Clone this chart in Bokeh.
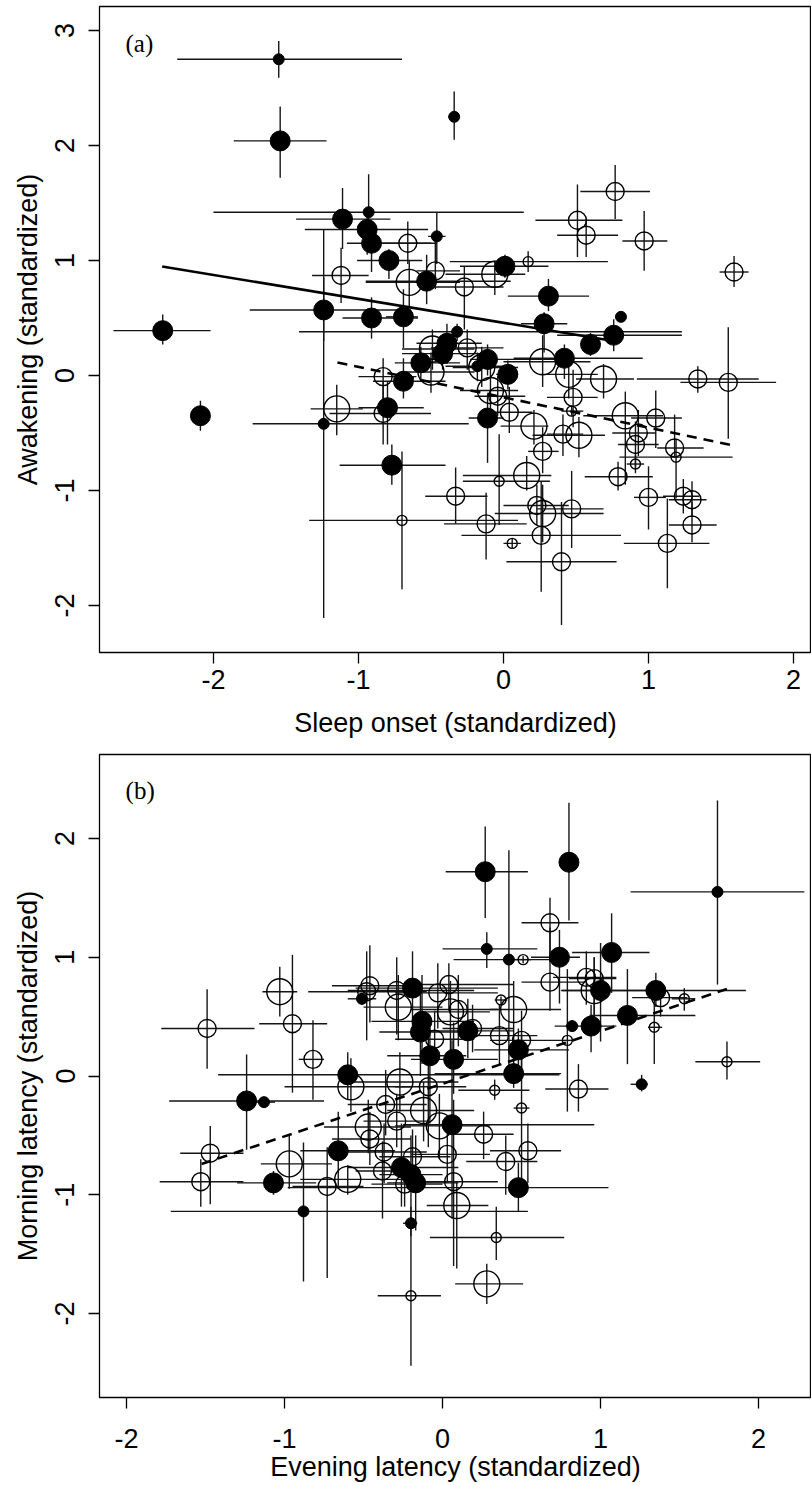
from bokeh.plotting import figure
from bokeh.models import Range1d, FixedTicker, Label, ColumnDataSource
from bokeh.layouts import column
from bokeh.embed import file_html
from bokeh.resources import INLINE

# ---------------- Panel (a): sleep onset vs awakening ----------------
# first 34 entries are filled symbols, remaining 57 are open symbols
a_x = [-1.55, -1.54, -0.34, -2.35, -2.09, -1.11, -0.93, -0.94, -0.91, -0.79,
       -0.46, -0.53, -1.24, -0.91, -0.69, 0.31, 0.28, 0.81, 0.76, 0.60,
       0.42, 0.03, 0.01, -0.11, -0.11, -0.39, -0.42, -0.32, -0.57, -0.69,
       -0.80, -0.77, -1.24, -0.18,
       0.77, 0.51, 0.57, 0.97, 1.59, 1.34, 1.55, 0.84, 1.05, 0.93,
       0.91, 1.18, 1.19, 0.79, 1.00, 1.24, 1.30, 1.30, 1.13, 0.40,
       0.26, 0.27, 0.23, 0.47, -0.12, -0.33, -0.70, -0.03, 0.06, 0.16,
       0.27, 0.21, 0.52, 0.41, 0.48, 0.04, 0.27, 0.45, 0.69, 0.17,
       -0.66, -0.47, -0.65, -0.27, -0.06, -0.49, -0.50, -0.25, -0.83, -0.15,
       -0.09, -0.04, -1.15, -0.83, 0.47, 0.91, -1.12]
a_y = [2.75, 2.04, 2.25, 0.39, -0.35, 1.36, 1.42, 1.27, 1.15, 1.00,
       1.21, 0.82, 0.57, 0.50, 0.51, 0.69, 0.45, 0.51, 0.35, 0.27,
       0.15, 0.01, 0.95, 0.14, -0.37, 0.28, 0.19, 0.38, 0.11, -0.05,
       -0.28, -0.78, -0.42, 0.08,
       1.60, 1.35, 1.22, 1.17, 0.90, -0.03, -0.06, -0.35, -0.37, -0.50,
       -0.60, -0.63, -0.71, -0.88, -1.06, -1.05, -1.08, -1.30, -1.46, -1.62,
       -1.39, -1.20, -1.13, -1.16, -1.29, -1.05, -1.26, -0.92, -1.46, -0.87,
       -0.66, -0.44, -0.52, -0.51, -0.19, -0.32, 0.12, 0.01, -0.03, 0.99,
       1.15, 0.91, 0.81, 0.77, 0.88, 0.23, 0.03, 0.24, -0.01, 0.07,
       -0.13, -0.18, -0.29, -0.33, -0.31, -0.77, 0.87]
a_xlo = [-2.25, -1.86, -0.38, -2.69, -2.11, -1.43, -2.00, -1.37, -1.08, -1.01,
         -0.52, -0.95, -1.75, -1.11, -0.81, 0.03, 0.12, 0.78, 0.37, 0.55,
         0.07, -0.05, -0.30, -0.23, -0.24, -0.60, -0.70, -1.41, -0.75, -0.90,
         -1.00, -1.13, -1.73, -0.40,
         0.53, 0.22, 0.37, 0.82, 1.49, 0.92, 1.22, 0.55, 0.88, 0.75,
         0.79, 1.06, 0.80, 0.56, 0.90, 1.10, 1.14, 1.14, 0.83, 0.02,
         -0.29, -0.06, 0.00, 0.23, -0.41, -0.54, -1.34, -0.28, 0.00, -0.28,
         0.17, -0.02, 0.20, 0.30, 0.30, -0.10, 0.00, 0.25, 0.50, -0.37,
         -0.95, -0.60, -0.95, -0.50, -0.40, -0.70, -0.70, -0.50, -1.00, -0.35,
         -0.30, -0.20, -1.33, -1.20, 0.40, 0.85, -1.32]
a_xhi = [-0.70, -1.22, -0.31, -2.02, -2.06, -0.78, 0.14, -0.52, -0.46, -0.56,
         -0.40, 0.05, -0.64, -0.59, -0.59, 0.59, 0.44, 0.83, 1.23, 0.65,
         0.96, 0.10, 0.31, 0.35, 0.00, -0.15, -0.10, 1.23, -0.30, -0.40,
         -0.55, -0.40, -0.24, 0.05,
         1.01, 0.82, 0.79, 1.13, 1.69, 1.76, 1.88, 1.10, 1.23, 1.05,
         1.07, 1.38, 1.58, 1.03, 1.12, 1.35, 1.40, 1.47, 1.42, 0.78,
         0.81, 0.69, 0.45, 0.69, 0.16, -0.11, 0.10, 0.32, 0.12, 0.33,
         0.38, 0.31, 0.70, 0.55, 0.65, 0.20, 0.60, 0.65, 0.90, 0.72,
         -0.50, -0.30, -0.30, 0.00, 0.15, -0.20, -0.20, 0.00, -0.60, 0.10,
         0.10, 0.15, -0.97, -0.50, 0.55, 0.97, -0.93]
a_ylo = [2.59, 1.72, 2.05, 0.27, -0.48, 1.10, 1.30, 1.05, 0.90, 0.84,
         0.97, 0.62, 0.30, 0.32, 0.24, 0.56, 0.20, 0.49, 0.21, 0.17,
         -0.03, -0.12, 0.85, 0.00, -0.76, 0.10, 0.05, 0.30, -0.05, -0.20,
         -0.60, -0.95, -2.11, -0.05,
         1.36, 1.03, 1.03, 0.91, 0.77, -0.15, -0.55, -0.95, -0.63, -0.70,
         -0.80, -0.70, -1.07, -1.00, -1.34, -1.20, -1.23, -1.45, -1.85, -2.17,
         -1.88, -1.45, -1.30, -1.50, -1.60, -1.29, -1.86, -1.30, -1.50, -1.00,
         -0.85, -0.60, -0.71, -0.70, -0.45, -0.50, -0.10, -0.20, -0.20, 0.90,
         0.97, 0.75, 0.60, 0.40, 0.70, 0.05, -0.15, 0.05, -0.25, -0.10,
         -0.40, -0.35, -0.52, -0.60, -0.35, -0.85, 0.63]
a_yhi = [2.91, 2.34, 2.47, 0.53, -0.22, 1.63, 1.75, 1.45, 1.27, 1.10,
         1.42, 1.05, 0.85, 0.68, 0.75, 0.84, 0.55, 0.54, 0.49, 0.37,
         0.27, 0.13, 1.05, 0.27, -0.17, 0.45, 0.32, 0.45, 0.25, 0.15,
         -0.05, -0.60, 1.27, 0.20,
         1.83, 1.66, 1.36, 1.43, 1.04, 0.08, 0.42, -0.14, -0.13, -0.30,
         -0.40, -0.34, -0.55, -0.75, -0.79, -0.90, -0.92, -1.10, -1.07, -1.10,
         -0.92, -0.95, -0.95, -0.83, -1.02, -0.80, -0.66, -0.51, -1.42, -0.70,
         -0.45, -0.30, -0.36, -0.34, 0.05, -0.10, 0.35, 0.20, 0.10, 1.08,
         1.34, 1.20, 1.00, 0.95, 1.00, 0.40, 0.20, 0.40, 0.15, 0.25,
         0.10, 0.00, -0.08, -0.05, -0.26, -0.69, 1.11]
a_w = [1, 2, 1, 2, 2, 2, 1, 2, 2, 2,
       1, 2, 2, 2, 2, 2, 2, 1, 2, 2,
       2, 2, 2, 2, 2, 2, 2, 1, 2, 2,
       2, 2, 1, 1,
       2, 2, 2, 2, 2, 2, 2, 3, 2, 2,
       2, 2, 1, 2, 2, 2, 2, 2, 2, 2,
       2, 3, 2, 2, 2, 2, 1, 1, 1, 3,
       2, 3, 3, 2, 2, 2, 3, 3, 3, 1,
       2, 2, 3, 2, 3, 3, 3, 2, 2, 3,
       3, 2, 3, 2, 1, 1, 2]
a_group = ["filled"] * 34 + ["open"] * 57

a_fit_solid_x = [-2.354, 0.76]
a_fit_solid_y = [0.948, 0.30]
a_fit_dash_x = [-1.145, 1.586]
a_fit_dash_y = [0.113, -0.609]

# ---------------- Panel (b): evening vs morning latency ----------------
# first 34 entries filled, remaining 59 open
b_x = [0.27, 0.28, 0.80, 1.74, 1.07, 0.74, 0.42, 1.35, 1.00, 1.17,
       0.94, 0.82, 1.26, 0.48, 0.45, 0.48, 0.07, 0.16, 0.06, -0.13,
       -0.14, -0.08, -0.19, -0.51, -0.60, -1.24, -1.13, -1.07, -0.88, -0.66,
       -0.26, -0.20, -0.17, -0.20,
       -1.49, -1.03, -0.95, -0.82, -0.46, -0.48, -0.29, -0.28, -0.03, 0.04,
       0.05, 0.10, 0.19, -0.05, 0.36, 0.45, 0.50, 0.37, 0.51, 0.68,
       0.68, 0.91, 0.96, 0.96, 1.38, 1.53, 1.34, 1.80, 0.86, 0.79,
       0.33, 0.50, -0.09, -0.27, -0.58, -0.36, -0.29, -0.12, -0.02, -0.47,
       -0.46, -0.37, -0.38, 0.26, 0.54, 0.40, 0.03, 0.07, 0.09, 0.28,
       0.34, -0.20, -0.24, -0.19, -0.60, -0.73, -0.97, -1.47, -1.53]
b_y = [1.72, 1.07, 1.80, 1.55, 1.04, 1.00, 0.98, 0.72, 0.72, 0.51,
       0.42, 0.42, -0.07, 0.22, 0.02, -0.94, 0.14, 0.38, -0.41, 0.46,
       0.37, 0.17, 0.74, 0.65, 0.01, -0.21, -0.22, -0.90, -1.14, -0.63,
       -0.77, -0.83, -0.90, -1.24,
       0.40, 0.71, 0.44, 0.14, 0.76, 0.71, 0.72, 0.58, 0.70, 0.77,
       0.54, 0.56, 0.40, 0.31, 0.34, 0.56, 0.30, 0.64, 0.98, 1.29,
       0.79, 0.83, 0.82, 0.72, 0.66, 0.65, 0.41, 0.12, -0.11, 0.30,
       -0.12, -0.27, -0.09, -0.05, -0.09, -0.24, -0.38, -0.29, -0.42, -0.43,
       -0.53, -0.64, -0.80, -0.49, -0.63, -0.72, -0.66, -0.89, -1.09, -1.75,
       -1.36, -1.85, -0.91, -0.68, -0.87, -0.93, -0.74, -0.65, -0.89]
b_xlo = [0.02, 0.00, 0.76, 1.19, 0.82, 0.56, 0.07, 1.20, 0.76, 0.93,
         0.71, 0.78, 1.19, 0.20, -0.05, -0.98, -0.20, -0.10, -0.25, -0.45,
         -0.40, -0.35, -0.55, -0.60, -1.42, -1.73, -1.20, -1.30, -1.72, -0.90,
         -0.60, -0.40, -0.35, -0.25,
         -1.78, -1.14, -1.16, -0.91, -0.70, -0.85, -0.60, -0.50, -0.30, -0.25,
         -0.15, -0.20, 0.00, -0.30, 0.15, 0.30, 0.30, 0.33, 0.45, 0.50,
         0.50, 0.70, 0.80, 0.75, 1.20, 1.45, 1.30, 1.60, 0.65, 0.75,
         0.10, 0.45, -0.30, -0.60, -1.00, -0.60, -0.50, -0.35, -0.30, -0.75,
         -0.70, -0.60, -0.55, 0.05, 0.30, 0.15, -0.20, -0.20, -0.10, 0.08,
         -0.08, -0.41, -0.45, -0.40, -0.90, -0.95, -1.15, -1.66, -1.79]
b_xhi = [0.54, 0.60, 0.83, 2.29, 1.31, 0.87, 0.68, 1.92, 1.36, 1.60,
         1.10, 0.86, 1.30, 0.80, 0.75, 1.05, 0.35, 0.45, 0.96, 0.20,
         0.10, 0.15, 0.35, -0.42, 0.74, -0.75, -1.06, -0.80, 0.54, -0.30,
         0.10, 0.00, 0.10, -0.16,
         -1.19, -0.92, -0.73, -0.75, -0.20, -0.10, 0.20, 0.00, 0.35, 0.45,
         0.30, 0.35, 0.45, 0.20, 0.60, 0.75, 0.75, 0.41, 0.56, 0.86,
         0.90, 1.10, 1.10, 1.20, 1.55, 1.60, 1.39, 2.01, 1.05, 0.83,
         0.55, 0.55, 0.15, 0.10, -0.20, -0.10, -0.10, 0.20, 0.30, -0.20,
         -0.20, -0.10, -0.20, 0.45, 0.75, 0.60, 0.30, 0.35, 0.29, 0.51,
         0.77, -0.01, 0.00, 0.05, -0.25, -0.50, -0.70, -1.26, -1.26]
b_ylo = [1.33, 0.91, 1.31, 0.77, 0.70, 0.61, 0.06, 0.58, 0.29, 0.10,
         0.20, 0.38, -0.13, 0.05, -0.10, -1.14, -0.15, 0.15, -1.20, 0.10,
         0.00, -0.40, 0.40, 0.60, -0.20, -0.62, -0.25, -1.00, -1.73, -0.95,
         -1.10, -1.20, -1.30, -1.35,
         0.06, 0.50, -0.14, -0.20, 0.45, 0.30, 0.35, 0.30, 0.40, 0.55,
         0.20, 0.25, 0.20, 0.10, 0.10, 0.25, 0.05, 0.60, 0.95, 0.96,
         0.55, 0.60, 0.50, 0.40, 0.50, 0.55, 0.10, -0.03, -0.30, -0.30,
         -0.20, -0.90, -0.60, -0.30, -0.30, -0.50, -0.60, -0.55, -0.70, -0.65,
         -0.75, -0.90, -1.20, -0.70, -0.90, -1.00, -0.90, -1.60, -1.62, -1.92,
         -1.55, -2.44, -1.10, -0.90, -1.00, -1.70, -0.95, -1.08, -1.10]
b_yhi = [2.10, 1.21, 2.30, 2.32, 1.37, 1.23, 1.90, 0.87, 1.12, 0.90,
         0.60, 0.47, 0.01, 0.40, 0.15, -0.73, 0.45, 0.65, 0.30, 0.85,
         0.75, 0.50, 1.05, 0.70, 0.20, 0.18, -0.18, -0.80, -0.56, -0.30,
         -0.40, -0.50, -0.50, -1.10,
         0.73, 0.92, 1.02, 0.47, 1.10, 1.05, 1.00, 0.85, 0.95, 0.95,
         0.80, 0.85, 0.60, 0.55, 0.60, 0.80, 0.55, 0.67, 1.01, 1.50,
         1.25, 1.05, 1.00, 1.00, 0.80, 0.74, 0.65, 0.29, 0.10, 0.90,
         -0.03, 0.35, 0.40, 0.20, 0.15, 0.05, -0.15, -0.05, -0.15, -0.20,
         -0.30, -0.40, -0.55, -0.30, -0.40, -0.50, -0.40, -0.20, -0.89, -1.58,
         -1.10, -1.25, -0.70, -0.45, -0.75, -0.60, -0.50, -0.42, -0.70]
b_w = [2, 1, 2, 1, 2, 2, 1, 2, 2, 2,
       2, 1, 1, 2, 2, 2, 2, 2, 2, 2,
       2, 2, 2, 1, 2, 2, 1, 2, 1, 2,
       2, 2, 2, 1,
       2, 3, 2, 2, 2, 2, 2, 3, 2, 2,
       3, 2, 2, 2, 2, 3, 2, 1, 1, 2,
       2, 2, 2, 3, 2, 1, 1, 1, 2, 1,
       1, 1, 2, 3, 3, 2, 2, 3, 3, 3,
       2, 2, 2, 2, 2, 2, 2, 2, 3, 3,
       1, 1, 2, 2, 3, 2, 3, 2, 2]
b_group = ["filled"] * 34 + ["open"] * 59

b_fit_dash_x = [-1.525, 1.80]
b_fit_dash_y = [-0.741, 0.733]

# ---------------- styling ----------------
SIZE_OPEN = {1: 10, 2: 18, 3: 26}
SIZE_FILLED = {1: 11, 2: 20, 3: 26}
AXIS_FONT = "Liberation Sans"
BAR_COLOR = "#151515"


def add_points(p, x, y, xlo, xhi, ylo, yhi, w, group):
    sizes = [SIZE_FILLED[k] if g == "filled" else SIZE_OPEN[k]
             for k, g in zip(w, group)]
    data = dict(x=x, y=y, xlo=xlo, xhi=xhi, ylo=ylo, yhi=yhi, s=sizes, g=group)
    src = ColumnDataSource(data)
    p.segment(x0="xlo", x1="xhi", y0="y", y1="y", source=src,
              line_color=BAR_COLOR, line_width=1.4)
    p.segment(x0="x", x1="x", y0="ylo", y1="yhi", source=src,
              line_color=BAR_COLOR, line_width=1.4)
    idx_f = [i for i, g in enumerate(group) if g == "filled"]
    idx_o = [i for i, g in enumerate(group) if g == "open"]
    fsrc = ColumnDataSource({k: [v[i] for i in idx_f] for k, v in data.items()})
    osrc = ColumnDataSource({k: [v[i] for i in idx_o] for k, v in data.items()})
    p.scatter("x", "y", size="s", source=osrc, marker="circle",
              fill_alpha=0, line_color="black", line_width=1.4)
    p.scatter("x", "y", size="s", source=fsrc, marker="circle",
              fill_color="black", line_color="black", line_width=1)


def style(p, xlabel, ylabel, xticks, yticks, x_std, x_lab_std):
    p.outline_line_color = "black"
    p.outline_line_width = 1.3
    p.outline_line_alpha = 1.0
    p.xgrid.visible = False
    p.ygrid.visible = False
    p.background_fill_color = "white"
    p.border_fill_color = "white"
    p.xaxis.ticker = FixedTicker(ticks=xticks)
    p.yaxis.ticker = FixedTicker(ticks=yticks)
    p.xaxis.major_label_overrides = {t: str(t) for t in xticks}
    p.yaxis.major_label_overrides = {t: str(t) for t in yticks}
    p.xaxis.axis_label = xlabel
    p.yaxis.axis_label = ylabel
    for ax in (p.xaxis[0], p.yaxis[0]):
        ax.axis_line_color = None
        ax.major_tick_out = 11
        ax.major_tick_in = 0
        ax.major_tick_line_width = 1.3
        ax.major_tick_line_color = "black"
        ax.minor_tick_line_color = None
        ax.major_label_text_font = AXIS_FONT
        ax.major_label_text_font_size = "27px"
        ax.major_label_text_color = "black"
        ax.axis_label_text_font = AXIS_FONT
        ax.axis_label_text_font_size = "27px"
        ax.axis_label_text_font_style = "normal"
        ax.axis_label_text_color = "black"
    p.xaxis.major_label_standoff = x_std
    p.xaxis.axis_label_standoff = x_lab_std
    p.yaxis.major_label_orientation = "vertical"
    p.yaxis.major_label_standoff = 14
    p.yaxis.axis_label_standoff = 10


# ---------- figure (a) ----------
pa = figure(frame_width=712, frame_height=646,
            x_range=Range1d(-2.786, 2.124), y_range=Range1d(-2.409, 3.209),
            min_border_left=99, min_border_right=0, min_border_top=6,
            min_border_bottom=90, output_backend="svg", toolbar_location=None)
add_points(pa, a_x, a_y, a_xlo, a_xhi, a_ylo, a_yhi, a_w, a_group)
pa.line(a_fit_solid_x, a_fit_solid_y, line_color="black", line_width=2.6)
pa.line(a_fit_dash_x, a_fit_dash_y, line_color="black", line_width=2.6,
        line_dash="10 7")
style(pa, "Sleep onset (standardized)", "Awakening (standardized)",
      [-2, -1, 0, 1, 2], [-2, -1, 0, 1, 2, 3], 6, 16)
pa.add_layout(Label(x=-2.607, y=2.89, text="(a)", text_font="Liberation Serif",
                    text_font_size="25px", text_baseline="middle",
                    text_align="left", text_color="black"))

# ---------- figure (b) ----------
pb = figure(frame_width=712, frame_height=643,
            x_range=Range1d(-2.171, 2.335), y_range=Range1d(-2.707, 2.707),
            min_border_left=99, min_border_right=0, min_border_top=12,
            min_border_bottom=88, output_backend="svg", toolbar_location=None)
add_points(pb, b_x, b_y, b_xlo, b_xhi, b_ylo, b_yhi, b_w, b_group)
pb.line(b_fit_dash_x, b_fit_dash_y, line_color="black", line_width=2.6,
        line_dash="10 7")
style(pb, "Evening latency (standardized)", "Morning latency (standardized)",
      [-2, -1, 0, 1, 2], [-2, -1, 0, 1, 2], 20, 1)
pb.add_layout(Label(x=-2.006, y=2.406, text="(b)", text_font="Liberation Serif",
                    text_font_size="25px", text_baseline="middle",
                    text_align="left", text_color="black"))

layout = column(pa, pb, spacing=0)
open("out.html", "w").write(file_html(layout, INLINE))
